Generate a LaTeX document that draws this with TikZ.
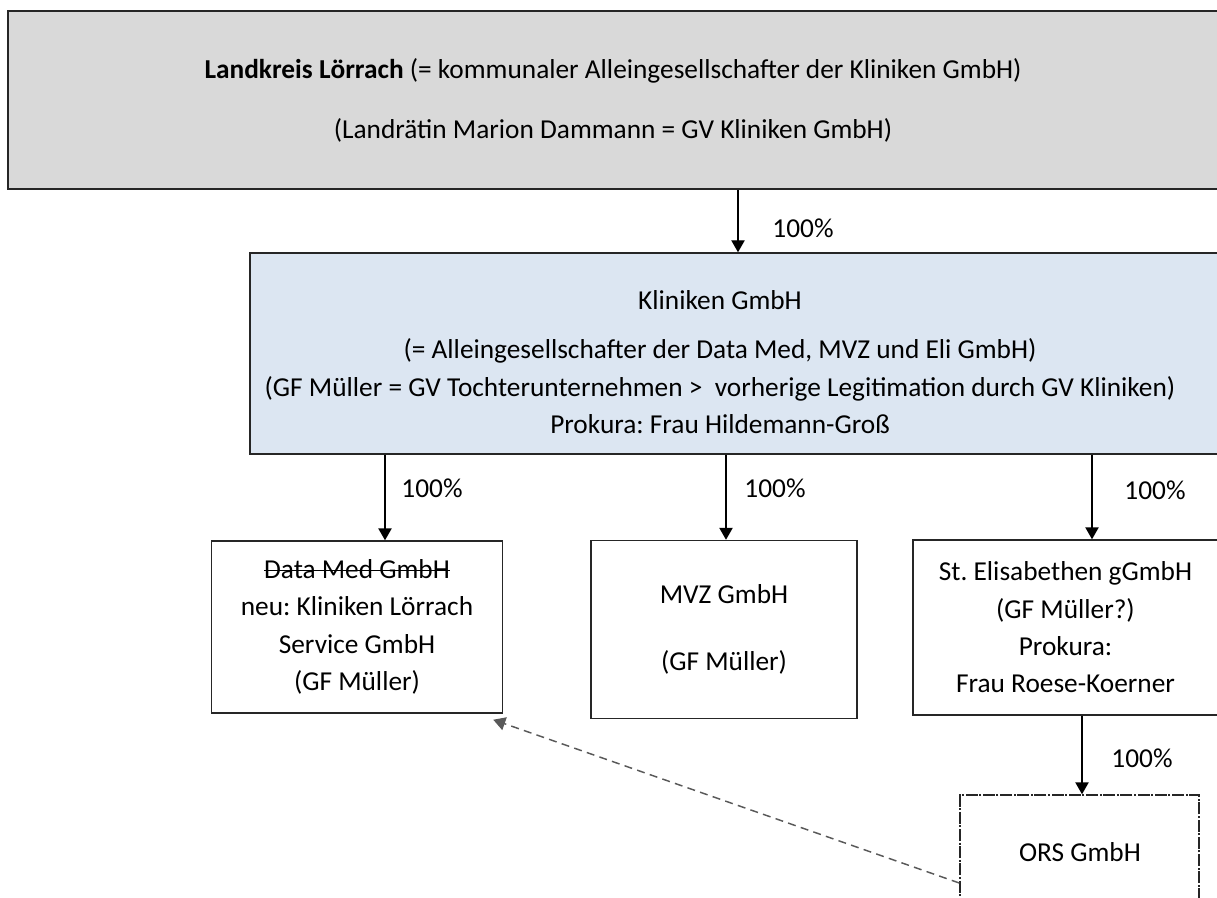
\documentclass[tikz,border=0pt]{standalone}
\usepackage{fontspec}
\setmainfont{Carlito}
\usetikzlibrary{arrows.meta,calc}
\definecolor{boxgray}{HTML}{D9D9D9}
\definecolor{boxblue}{HTML}{DCE6F2}
\definecolor{linkgray}{HTML}{595959}
\frenchspacing
\newcommand\strikeout[1]{\setbox0\hbox{#1}\rlap{\rule[0.26em]{\wd0}{0.06em}}\box0}
\tikzset{
  unit/.style={draw=black!85, line width=1.1pt, inner sep=0pt, align=center,
    font=\fontsize{20.5}{28}\selectfont},
  own/.style={-{Triangle[length=9pt,width=10pt]}, line width=1.1pt},
  pct/.style={inner sep=0pt, font=\fontsize{20.5}{24}\selectfont}
}

\begin{document}
\begin{tikzpicture}[x=0.75pt,y=-0.75pt]
    \useasboundingbox (0,0) rectangle (1217,898);
    \clip (0,0) rectangle (1217,898);
    \node[unit, line width=1.6pt, fill=boxgray, minimum width=907.5pt, minimum height=133.5pt] (kreis) at (613,100)
      {\textbf{Landkreis Lörrach} (= kommunaler Alleingesellschafter der Kliniken GmbH)\\[17pt]
       (Landrätin Marion Dammann = GV Kliniken GmbH)};
    \node[unit, fill=boxblue, minimum width=735pt, minimum height=150.75pt] (klinik) at (740,353.5) {};
    \node[align=center, inner sep=0pt, font=\fontsize{20.5}{28}\selectfont] (kliniktext) at (720,362)
      {Kliniken GmbH\\[9pt]
       (= Alleingesellschafter der Data Med, MVZ und Eli GmbH)\\
       (GF Müller = GV Tochterunternehmen > \ vorherige Legitimation durch GV Kliniken)\\
       Prokura: Frau Hildemann-Groß};
    \node[unit, minimum width=218.25pt, minimum height=129pt] (dmed) at (357,627)
      {\strikeout{Data Med GmbH}\\ neu: Kliniken Lörrach\\ Service GmbH\\ (GF Müller)};
    \node[unit, minimum width=199.5pt, minimum height=133.5pt] (mvz) at (724,629.5)
      {MVZ GmbH\\[22pt] (GF Müller)};
    \node[unit, minimum width=228.75pt, minimum height=131.25pt] (eli) at (1065.5,627.5)
      {St. Elisabethen gGmbH\\ (GF Müller?)\\ Prokura:\\ Frau Roese-Koerner};
    \node[unit, dash pattern=on 9pt off 1.2pt on 1.5pt off 1.2pt, minimum width=179.25pt, minimum height=132pt] (ors) at (1079.5,883) {};
    \node[inner sep=0pt, font=\fontsize{20.5}{24}\selectfont] (orstext) at (1080,852) {ORS GmbH};

    \draw[own] (kreis.south -| 738,0) -- (klinik.north -| 738,0);
    \foreach \x/\n in {385/dmed, 726/mvz, 1092/eli}
      \draw[own] (klinik.south -| \x,0) -- (\n.north -| \x,0);
    \draw[own] (eli.south -| 1082,0) -- (ors.north -| 1082,0);

    \coordinate (dmedtip) at ($(dmed.south east)+(-10,6)$);
    \draw[own, draw=linkgray, dash pattern=on 6pt off 4pt] (ors.west) -- (dmedtip);

    \node[pct] (p0) at (803,228) {100\%};
    \node[pct] (p1) at (432,488) {100\%};
    \node[pct] (p2) at (775,488) {100\%};
    \node[pct] (p3) at (1155,490) {100\%};
    \node[pct] (p4) at (1142,758) {100\%};
\end{tikzpicture}
\end{document}
